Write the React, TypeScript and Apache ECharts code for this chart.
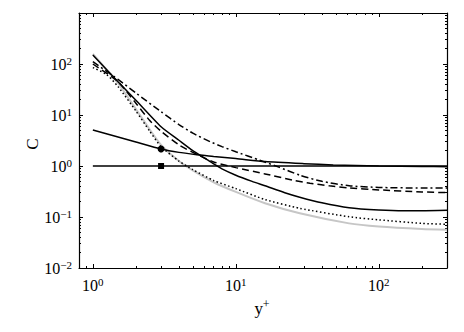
import React, { useEffect, useRef } from 'react';
import * as echarts from 'echarts';

// ---- data ----
const xMin = 0.8;
const xMax = 300;
const yMin = 0.01;
const yMax = 1000;

const majorX = [1, 10, 100];
const majorY = [0.01, 0.1, 1, 10, 100];
const minorX = [0.9, 2, 3, 4, 5, 6, 7, 8, 9, 20, 30, 40, 50, 60, 70, 80, 90, 200];
const minorY = [
  0.02, 0.03, 0.04, 0.05, 0.06, 0.07, 0.08, 0.09,
  0.2, 0.3, 0.4, 0.5, 0.6, 0.7, 0.8, 0.9,
  2, 3, 4, 5, 6, 7, 8, 9,
  20, 30, 40, 50, 60, 70, 80, 90,
  200, 300, 400, 500, 600, 700, 800, 900,
];

// solid, square marker at y+ = 3
const xA = [1, 3, 300];
const cA = [1, 1, 1];
// solid, circle marker at y+ = 3
const xB = [1, 2, 3, 4, 5.65, 7, 10, 16, 30, 48, 100, 200, 300];
const cB = [5.1, 2.95, 2.15, 1.85, 1.64, 1.53, 1.4, 1.22, 1.11, 1.05, 1.0, 0.98, 0.97];
// solid, steep
const xC = [1, 1.5, 2, 3, 4, 5, 6, 7, 8, 10, 13, 16, 22, 28, 40, 62, 100, 150, 200, 300];
const cC = [150, 45, 19.5, 5.9, 3.2, 2.0, 1.45, 1.1, 0.88, 0.66, 0.5, 0.41, 0.3, 0.245, 0.19, 0.152, 0.137, 0.132, 0.132, 0.135];
// dash-dot
const xD = [1, 1.5, 2, 3, 4, 5, 6.6, 8, 10, 14.7, 20, 28, 40, 62, 100, 200, 300];
const cD = [111, 50, 27, 11.6, 6.5, 4.4, 3.0, 2.4, 1.9, 1.3, 0.95, 0.66, 0.5, 0.41, 0.38, 0.37, 0.37];
// dashed
const xE = [1, 1.5, 2, 2.5, 3, 4, 5, 7, 10, 16, 25, 33, 45, 62, 100, 200, 300];
const cE = [100, 45, 17, 7.8, 4.8, 2.6, 1.85, 1.2, 0.93, 0.7, 0.53, 0.46, 0.41, 0.37, 0.34, 0.31, 0.3];
// dotted
const xF = [1, 1.25, 1.5, 2, 2.5, 3, 4, 5, 7, 10, 16, 28, 62, 100, 200, 300];
const cF = [85, 62, 36, 12, 4.8, 2.4, 1.25, 0.85, 0.52, 0.36, 0.22, 0.148, 0.101, 0.088, 0.075, 0.072];
// gray
const xG = [1, 1.5, 2, 2.5, 3, 4, 5, 7, 10, 16, 28, 62, 100, 200, 300];
const cG = [157, 42, 13, 5.2, 2.6, 1.25, 0.82, 0.48, 0.31, 0.186, 0.118, 0.075, 0.065, 0.058, 0.056];

const FONT = '"Liberation Serif", "Times New Roman", serif';

const zip = (xs: number[], ys: number[]) => xs.map((x, i) => [x, ys[i]]);

function fmt(v: number) {
  const l = Math.log10(v);
  const e = Math.round(l);
  if (Math.abs(l - e) > 1e-6) return '';
  const s = e < 0 ? '\u2212' + -e : String(e);
  return `{b|10}{s|${s}}`;
}

const rich = {
  b: { fontSize: 16, fontFamily: FONT, color: '#000', lineHeight: 18 },
  s: { fontSize: 11, fontFamily: FONT, color: '#000', verticalAlign: 'top', lineHeight: 11 },
};

function axis(min: number, max: number, position: string, extra: any) {
  return {
    type: 'log',
    logBase: 10,
    min,
    max,
    position,
    splitLine: { show: false },
    axisLine: { show: true, lineStyle: { color: '#000', width: 1.2 } },
    axisLabel: { show: false },
    ...extra,
  };
}

export default function App() {
  const ref = useRef<HTMLDivElement>(null);
  useEffect(() => {
    if (!ref.current) return;
    const chart = echarts.init(ref.current, undefined, { renderer: 'svg' });
    const major = (vals: number[]) => ({
      show: true, inside: true, length: 4, customValues: vals,
      lineStyle: { color: '#000', width: 1 },
    });
    const minor = (vals: number[]) => ({
      show: true, inside: true, length: 2, customValues: vals,
      lineStyle: { color: '#000', width: 1 },
    });
    const line = (data: any[], style: any, extra: any = {}) => ({
      type: 'line',
      data,
      symbol: 'none',
      showSymbol: true,
      smooth: 0.2,
      lineStyle: { color: '#000', width: 1.5, ...style },
      itemStyle: { color: '#000' },
      ...extra,
    });
    const dataA = zip(xA, cA).map((p) =>
      p[0] === 3 ? { value: p, symbol: 'rect', symbolSize: 6 } : { value: p }
    );
    const dataB = zip(xB, cB).map((p) =>
      p[0] === 3 ? { value: p, symbol: 'circle', symbolSize: 7 } : { value: p }
    );
    chart.setOption({
      animation: false,
      grid: { left: 79, right: 17, top: 13, bottom: 64 },
      xAxis: [
        axis(xMin, xMax, 'bottom', {
          axisTick: major(majorX),
          axisLabel: { show: true, customValues: majorX, formatter: fmt, rich, margin: 8 },
        }),
        axis(xMin, xMax, 'top', { axisTick: major(majorX) }),
        axis(xMin, xMax, 'bottom', { axisLine: { show: false }, axisTick: minor(minorX) }),
        axis(xMin, xMax, 'top', { axisLine: { show: false }, axisTick: minor(minorX) }),
      ],
      yAxis: [
        axis(yMin, yMax, 'left', {
          axisTick: major(majorY),
          axisLabel: { show: true, customValues: majorY, formatter: fmt, rich, margin: 7 },
        }),
        axis(yMin, yMax, 'right', { axisTick: major(majorY) }),
        axis(yMin, yMax, 'left', { axisLine: { show: false }, axisTick: minor(minorY) }),
        axis(yMin, yMax, 'right', { axisLine: { show: false }, axisTick: minor(minorY) }),
      ],
      graphic: [
        {
          type: 'text', x: 32, y: 144, rotation: Math.PI / 2,
          style: { text: 'C', font: `17px ${FONT}`, fill: '#000', textAlign: 'center', textVerticalAlign: 'middle' },
        },
        {
          type: 'text', x: 262, y: 308,
          style: {
            text: '{y|y}{p|+}', fill: '#000', textAlign: 'center', textVerticalAlign: 'middle',
            rich: {
              y: { fontSize: 17, fontFamily: FONT, lineHeight: 20 },
              p: { fontSize: 12, fontFamily: FONT, verticalAlign: 'top', lineHeight: 12 },
            },
          },
        },
      ],
      series: [
        line(zip(xG, cG), { color: '#c6c6c6', width: 2 }),
        line(zip(xF, cF), { type: [1.5, 2.5], width: 1.5 }),
        line(zip(xE, cE), { type: [7, 4] }),
        line(zip(xD, cD), { type: [7, 3, 2, 3] }),
        line(zip(xC, cC), {}),
        line(dataB, {}),
        line(dataA, {}),
      ],
    });
    return () => chart.dispose();
  }, []);
  return (
    <div
      ref={ref}
      style={{ position: 'fixed', left: 0, top: 0, width: 464, height: 332, background: '#fff' }}
    />
  );
}
